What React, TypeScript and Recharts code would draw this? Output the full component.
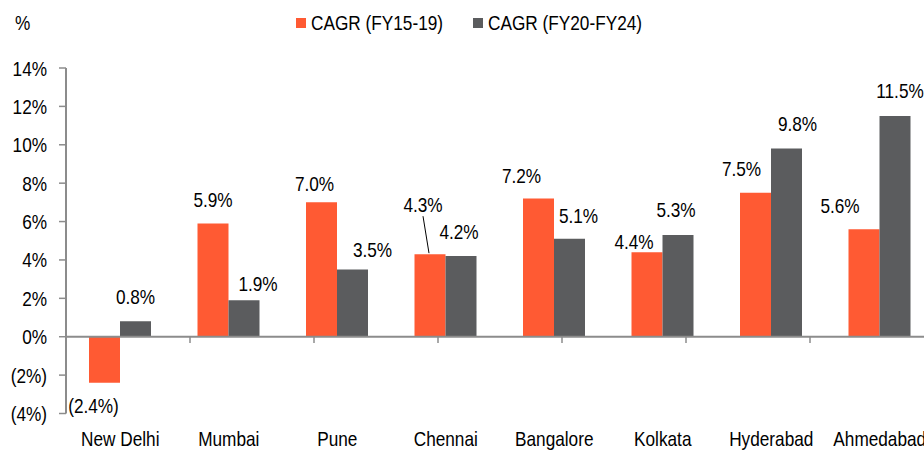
import React from 'react';
import { BarChart, Bar, XAxis, YAxis, ReferenceLine, LabelList, Legend } from 'recharts';

const CITIES = ['New Delhi', 'Mumbai', 'Pune', 'Chennai', 'Bangalore', 'Kolkata', 'Hyderabad', 'Ahmedabad'];
const CAGR_FY15_19 = [-2.4, 5.9, 7.0, 4.3, 7.2, 4.4, 7.5, 5.6];
const CAGR_FY20_24 = [0.8, 1.9, 3.5, 4.2, 5.1, 5.3, 9.8, 11.5];
const SERIES_NAMES = ['CAGR (FY15-19)', 'CAGR (FY20-FY24)'];
const Y_TICKS = [-4, -2, 0, 2, 4, 6, 8, 10, 12, 14];
const UNIT_LABEL = '%';

const data = CITIES.map((city, i) => ({ city, a: CAGR_FY15_19[i], b: CAGR_FY20_24[i] }));
const BOUNDARIES = CITIES.slice(1).map((_, i) => i + 1);

const FONT = '"Liberation Sans", Arial, sans-serif';
const FS = 21;
const SX = 0.82; // horizontal condensing to mimic a narrow face
const ORANGE = '#FF5A33';
const GREY = '#5B5C5E';
const AXIS = '#8C8C8C';

// label nudges (style): [dx, gap from bar end]
const NUDGE_A = [[-11, 30], [0, 16], [-7, 11], [-7, 42], [-17, 16], [-13, 3], [-14, 17], [-24, 16]];
const NUDGE_B = [[0, 17], [14, 9], [20, 13], [-2, 17], [9, 16], [-2, 18], [11, 18], [5, 18]];
const LEADER_A = [false, false, false, true, false, false, false, false];

const fmt = (v: number) => (v < 0 ? `(${Math.abs(v).toFixed(1)}%)` : `${v.toFixed(1)}%`);
const fmtTick = (v: number) => (v < 0 ? `(${Math.abs(v)}%)` : `${v}%`);

const NText = ({ x, y, anchor = 'middle', children }: any) => (
  <text
    transform={`translate(${x} ${y}) scale(${SX} 1)`}
    x={0}
    y={0}
    textAnchor={anchor}
    fontFamily={FONT}
    fontSize={FS}
    fill="#000"
  >
    {children}
  </text>
);

const makeLabel = (nudges: number[][], leaders?: boolean[]) => (props: any) => {
  const { x, y, width, height, value, index } = props;
  const v = Number(value);
  const top = Math.min(Number(y), Number(y) + Number(height));
  const bottom = Math.max(Number(y), Number(y) + Number(height));
  const cx = Number(x) + Number(width) / 2;
  const [dx, gap] = nudges[index] || [0, 16];
  const lx = cx + dx;
  const ly = v < 0 ? bottom + gap : top - gap;
  return (
    <g>
      {leaders && leaders[index] ? (
        <line x1={lx} y1={ly + 4} x2={cx - 1} y2={top - 1} stroke="#000" strokeWidth={1} />
      ) : null}
      <NText x={lx} y={ly}>{fmt(v)}</NText>
    </g>
  );
};

const XTick = (props: any) => {
  const { x, y, payload } = props;
  return <NText x={x} y={Number(y) + 32.5}>{payload.value}</NText>;
};

const YTick = (props: any) => {
  const { x, y, payload } = props;
  return (
    <NText x={x} y={Number(y) + 7.5} anchor="end">
      {fmtTick(payload.value)}
    </NText>
  );
};

const LegendContent = () => {
  const items = [
    { name: SERIES_NAMES[0], color: ORANGE, left: 0 },
    { name: SERIES_NAMES[1], color: GREY, left: 177 },
  ];
  return (
    <div style={{ position: 'relative', width: 400, height: 20 }}>
      {items.map((it) => (
        <div key={it.name} style={{ position: 'absolute', left: it.left, top: 0, height: 20, whiteSpace: 'nowrap' }}>
          <span style={{ position: 'absolute', left: 0, top: 5, width: 10, height: 10, background: it.color }} />
          <span
            style={{
              position: 'absolute',
              left: 15,
              top: 0,
              fontFamily: FONT,
              fontSize: FS,
              lineHeight: '20px',
              color: '#000',
              transform: `scaleX(${SX})`,
              transformOrigin: 'left center',
            }}
          >
            {it.name}
          </span>
        </div>
      ))}
    </div>
  );
};

export default function App() {
  return (
    <div style={{ position: 'absolute', left: 8, top: 8, width: 916, height: 442, overflow: 'hidden' }}>
      <BarChart
        width={940}
        height={442}
        data={data}
        margin={{ top: 60, right: 14, left: 0, bottom: 0 }}
        barGap={0}
        barSize={31}
      >
        <XAxis
          dataKey="city"
          axisLine={false}
          tickLine={false}
          tickSize={0}
          tickMargin={0}
          interval={0}
          height={36.5}
          tick={<XTick />}
        />
        <XAxis xAxisId="num" type="number" domain={[0, 8]} allowDataOverflow hide />
        <YAxis
          width={58}
          domain={[-4, 14]}
          ticks={Y_TICKS}
          interval={0}
          allowDataOverflow
          axisLine={{ stroke: AXIS, strokeWidth: 2 }}
          tickLine={{ stroke: AXIS, strokeWidth: 1.5 }}
          tickSize={7}
          tickMargin={12}
          tick={<YTick />}
          label={(p: any) => {
            const vb = p.viewBox || { x: 0, y: 60 };
            return (
              <NText x={vb.x + 7} y={vb.y - 38} anchor="start">
                {UNIT_LABEL}
              </NText>
            );
          }}
        />
        <Legend
          layout="horizontal"
          verticalAlign="middle"
          align="center"
          wrapperStyle={{ position: 'absolute', top: 5, left: 288, width: 400, height: 20 }}
          content={<LegendContent />}
        />
        <Bar dataKey="a" name={SERIES_NAMES[0]} fill={ORANGE} isAnimationActive={false}>
          <LabelList dataKey="a" content={makeLabel(NUDGE_A, LEADER_A)} />
        </Bar>
        <Bar dataKey="b" name={SERIES_NAMES[1]} fill={GREY} isAnimationActive={false}>
          <LabelList dataKey="b" content={makeLabel(NUDGE_B)} />
        </Bar>
        <ReferenceLine y={0} stroke={AXIS} strokeWidth={2} />
        {BOUNDARIES.map((k) => (
          <ReferenceLine
            key={k}
            xAxisId="num"
            segment={[{ x: k, y: 0 }, { x: k, y: -0.33 }]}
            stroke={AXIS}
            strokeWidth={1.5}
          />
        ))}
      </BarChart>
    </div>
  );
}
